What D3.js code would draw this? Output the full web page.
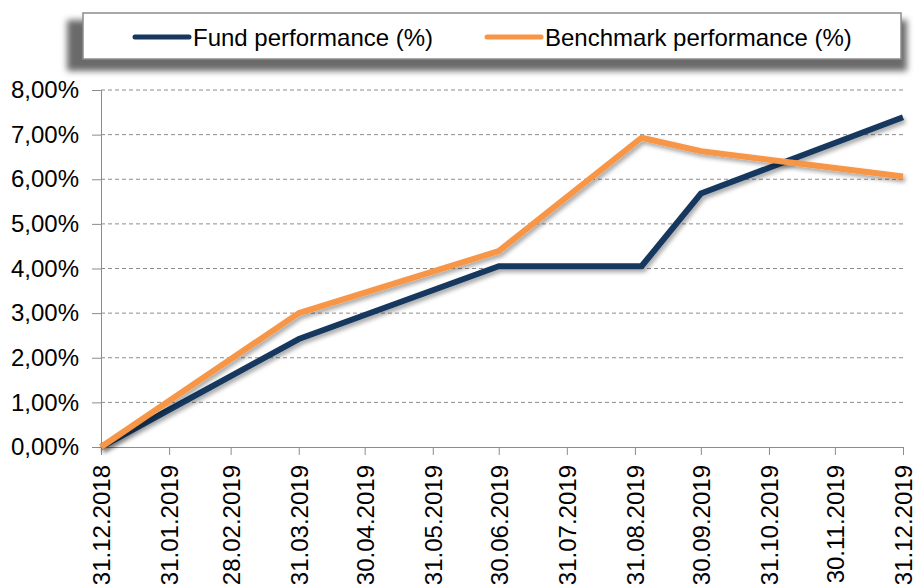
<!DOCTYPE html>
<html>
<head>
<meta charset="utf-8">
<script src="https://cdn.jsdelivr.net/npm/d3@7"></script>
<style>
  body { margin: 0; background: #fff; }
  svg { display: block; font-family: "Liberation Sans", Arial, sans-serif; }
</style>
</head>
<body>
<svg id="chart" width="915" height="585"></svg>
<script>
// data
var dates = ["31.12.2018", "31.03.2019", "30.06.2019", "03.09.2019", "30.09.2019", "31.12.2019"];
var fund = [0, 2.42, 4.05, 4.05, 5.68, 7.39];
var benchmark = [0, 3.00, 4.39, 6.93, 6.63, 6.06];
var tickDates = ["31.12.2018", "31.01.2019", "28.02.2019", "31.03.2019", "30.04.2019", "31.05.2019",
  "30.06.2019", "31.07.2019", "31.08.2019", "30.09.2019", "31.10.2019", "30.11.2019", "31.12.2019"];
var yTicks = [0, 1, 2, 3, 4, 5, 6, 7, 8];
var seriesNames = ["Fund performance (%)", "Benchmark performance (%)"];
var seriesColors = ["#17375e", "#f79646"];

var svg = d3.select("#chart"),
    margin = {top: 90, right: 12, bottom: 138, left: 101},
    width = +svg.attr("width") - margin.left - margin.right,
    height = +svg.attr("height") - margin.top - margin.bottom;

var parseDate = d3.timeParse("%d.%m.%Y"),
    fmtDate = d3.timeFormat("%d.%m.%Y");
var locale = d3.formatLocale({decimal: ",", thousands: ".", grouping: [3], currency: ["", "€"]});
var fmtPct = locale.format(".2%");

var defs = svg.append("defs");
var ls = defs.append("filter").attr("id", "lineShadow")
    .attr("x", "-5%").attr("y", "-10%").attr("width", "110%").attr("height", "130%");
ls.append("feDropShadow").attr("dx", 2).attr("dy", 3).attr("stdDeviation", 2)
    .attr("flood-color", "#000").attr("flood-opacity", 0.35);
var bs = defs.append("filter").attr("id", "boxBlur")
    .attr("x", "-10%").attr("y", "-50%").attr("width", "120%").attr("height", "200%");
bs.append("feGaussianBlur").attr("stdDeviation", 3);

var x = d3.scaleTime()
    .domain([parseDate(tickDates[0]), parseDate(tickDates[tickDates.length - 1])])
    .range([0, width]);
var y = d3.scaleLinear().domain([0, 8]).range([height, 0]);

var g = svg.append("g").attr("transform", "translate(" + margin.left + "," + margin.top + ")");

// gridlines
g.append("g")
    .selectAll("line")
    .data(yTicks.slice(1))
    .enter().append("line")
    .attr("x1", 0).attr("x2", width + 2)
    .attr("y1", function(d) { return y(d); })
    .attr("y2", function(d) { return y(d); })
    .attr("stroke", "#8c8c8c")
    .attr("stroke-width", 1)
    .attr("stroke-dasharray", "4,3");

// y axis
var yAxis = g.append("g")
    .call(d3.axisLeft(y).tickValues(yTicks).tickSize(9).tickPadding(13)
      .tickFormat(function(d) { return fmtPct(d / 100); }));
yAxis.select(".domain").attr("stroke", "#8c8c8c");
yAxis.selectAll(".tick line").attr("stroke", "#8c8c8c");
yAxis.selectAll("text").attr("font-size", 24).attr("fill", "#000");

// x axis
var xAxis = g.append("g")
    .attr("transform", "translate(0," + height + ")")
    .call(d3.axisBottom(x).tickValues(tickDates.map(parseDate)).tickSize(8).tickFormat(fmtDate));
xAxis.select(".domain").attr("stroke", "#8c8c8c");
xAxis.selectAll(".tick line").attr("stroke", "#8c8c8c");
xAxis.selectAll("text")
    .attr("font-size", 24)
    .attr("fill", "#000")
    .attr("text-anchor", "end")
    .attr("transform", "rotate(-90)")
    .attr("x", -18)
    .attr("y", 0)
    .attr("dy", "0.36em");

// lines
var line = d3.line()
    .x(function(d) { return x(d.date); })
    .y(function(d) { return y(d.value); });

var series = [fund, benchmark].map(function(vals, i) {
  return {name: seriesNames[i], color: seriesColors[i],
    values: vals.map(function(v, j) { return {date: parseDate(dates[j]), value: v}; })};
});

g.append("g")
    .selectAll("path")
    .data(series)
    .enter().append("path")
    .attr("d", function(d) { return line(d.values); })
    .attr("fill", "none")
    .attr("stroke", function(d) { return d.color; })
    .attr("stroke-width", 6)
    .attr("stroke-linejoin", "round")
    .attr("filter", "url(#lineShadow)");

// legend
var legend = svg.append("g");
legend.append("rect")
    .attr("x", 67).attr("y", 20).attr("width", 840).attr("height", 51)
    .attr("fill", "#6a6a6a")
    .attr("filter", "url(#boxBlur)");
legend.append("rect")
    .attr("x", 83).attr("y", 13).attr("width", 818).attr("height", 46)
    .attr("fill", "#fff")
    .attr("stroke", "#8c8c8c")
    .attr("stroke-width", 1.5);

var legendX = [135, 487];
var item = legend.selectAll("g.item")
    .data(series)
    .enter().append("g")
    .attr("class", "item")
    .attr("transform", function(d, i) { return "translate(" + legendX[i] + ",37)"; });
item.append("line")
    .attr("x1", 0).attr("x2", 54)
    .attr("stroke", function(d) { return d.color; })
    .attr("stroke-width", 5)
    .attr("stroke-linecap", "round");
item.append("text")
    .attr("x", 58)
    .attr("dy", "0.36em")
    .attr("font-size", 24)
    .attr("fill", "#000")
    .text(function(d) { return d.name; });
</script>
</body>
</html>
